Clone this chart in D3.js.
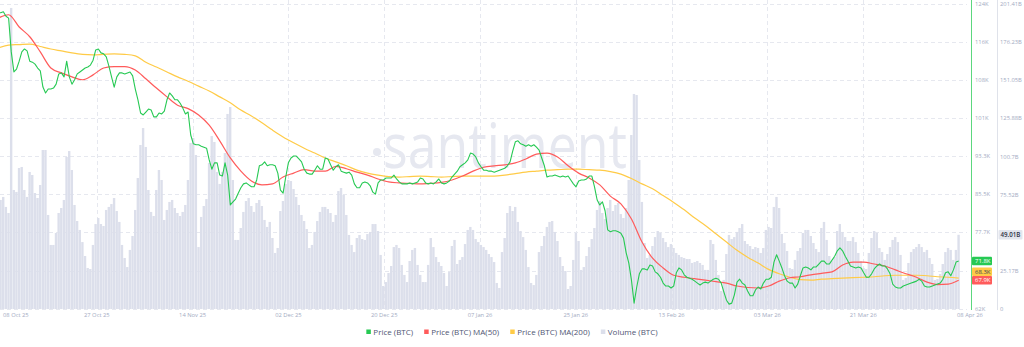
<!DOCTYPE html>
<html>
<head>
<meta charset="utf-8">
<script src="https://cdn.jsdelivr.net/npm/d3@7"></script>
<style>
  html, body { margin: 0; padding: 0; background: #ffffff; }
  svg { display: block; font-family: "Open Sans", "Noto Sans", sans-serif; }
</style>
</head>
<body>
<svg id="chart" width="1024" height="347"></svg>
<script>
// ---- BTC price, every 12 hours (thousand USD) ----
const priceStart = "2025-10-08T10:00:00Z";
const priceStepHours = 12;
const priceK = [
  122.6, 122.6, 122.8, 121.9, 121.5, 114.6, 110.5, 111.1, 112.7, 114.6,
  115.2, 114.8, 112.7, 112.5, 112.1, 111.3, 110.7, 107.4, 106.2, 107.0,
  107.0, 107.2, 108.0, 110.1, 110.3, 109.5, 112.7, 109.5, 108.0, 108.9,
  110.1, 110.5, 110.9, 111.3, 111.5, 111.9, 112.9, 115.0, 115.2, 114.4,
  114.2, 113.6, 111.7, 109.5, 107.4, 109.5, 110.3, 110.3, 110.1, 110.3,
  110.5, 109.7, 107.0, 104.8, 102.1, 101.7, 102.3, 102.9, 102.7, 101.3,
  101.3, 102.1, 101.9, 102.5, 104.8, 106.2, 105.6, 104.8, 104.8, 104.1,
  103.1, 101.9, 102.3, 97.6, 95.8, 95.6, 95.6, 95.3, 95.1, 94.9,
  92.5, 90.6, 91.9, 91.9, 89.4, 89.2, 91.9, 89.4, 83.3, 83.9,
  84.5, 85.7, 86.8, 87.6, 87.8, 87.4, 87.0, 87.0, 88.4, 91.3,
  91.5, 92.1, 91.3, 91.5, 91.5, 91.3, 89.8, 86.3, 85.7, 89.0,
  91.9, 92.9, 93.3, 93.3, 92.7, 92.1, 90.6, 89.8, 89.6, 89.6,
  90.4, 91.3, 90.6, 90.6, 92.9, 92.7, 91.5, 90.4, 91.1, 91.5,
  90.2, 90.0, 89.8, 90.0, 89.4, 87.6, 86.8, 86.8,
  87.8, 88.0, 87.8,
  87.2, 85.9, 85.5, 87.8, 88.4, 88.4, 88.8, 88.8, 88.8, 89.4,
  88.6, 88.0, 87.6, 87.6, 87.6, 87.8, 87.6, 87.8, 88.0, 88.8,
  88.6, 87.8, 87.6, 87.8, 87.6, 88.0, 88.6, 87.8, 87.6, 87.8,
  88.2, 89.0, 89.6, 90.2, 91.1, 91.5, 91.9, 92.5, 93.9, 93.7,
  93.1, 91.9, 91.1, 90.4, 90.4, 90.2, 90.2, 90.0, 90.2, 90.4,
  90.6, 90.8, 91.3, 92.1, 94.3, 96.2, 96.4, 95.8, 95.6, 95.3,
  95.6, 95.3, 95.6, 95.1, 94.5, 92.9, 91.3, 89.0, 89.2, 89.2,
  89.4, 89.2, 89.0, 89.2, 89.0, 89.2, 88.4, 87.6, 87.0, 88.2,
  88.4, 88.4, 88.6, 89.2, 89.2, 87.0, 84.3, 83.3, 83.9, 82.1,
  78.2, 77.8, 78.0, 78.0, 77.8, 77.5, 76.5, 73.5, 71.4, 67.9,
  63.2, 66.5, 69.2, 70.2, 70.2, 70.0, 71.0, 70.8, 69.6, 69.2,
  68.5, 67.3, 66.7, 66.7, 66.3, 66.7, 69.4, 70.4, 70.0, 69.0,
  68.5, 68.3, 68.1, 67.7, 67.3, 66.9, 67.3, 67.5, 67.3, 67.7,
  68.1, 68.3, 68.1, 67.3, 65.5, 63.8, 63.0, 63.2, 64.9, 67.5,
  68.1, 67.3, 66.9, 65.7, 64.7, 64.7, 65.9, 66.5, 66.1, 67.3,
  68.1, 68.1, 68.5, 71.6, 73.1, 71.8, 70.4, 68.8, 67.7, 67.3,
  67.3, 66.3, 67.1, 68.8, 70.4, 70.6, 70.4, 70.0, 70.6, 70.6,
  71.2, 71.8, 71.8, 71.2, 71.2, 72.0, 72.8, 73.9, 74.5, 73.9,
  72.8, 71.8, 70.8, 70.6, 70.4, 70.6, 70.4, 69.4, 68.5, 68.5,
  69.2, 70.2, 70.8, 71.2, 70.8, 70.8, 70.2, 69.2, 67.1, 66.5,
  66.3, 66.3, 66.7, 66.9, 67.1, 67.3, 67.5, 67.7, 68.1, 67.7,
  66.7, 66.5, 66.5, 66.7, 66.9, 67.1, 67.3, 68.1, 69.4, 69.6,
  68.8, 70.0, 71.6, 71.8
];

// ---- Moving averages, every 2 days (thousand USD) ----
const maStart = "2025-10-08T10:00:00Z";
const maStepHours = 48;
const ma50K = [
  121.5, 122.2, 119.7, 117.7, 114.6, 111.3, 110.3, 109.5, 108.9, 109.9,
  111.3, 111.6, 111.6, 110.9, 109.1, 107.2, 105.4, 103.7, 103.0, 101.7,
  99.6, 96.4, 92.9, 90.2, 88.2, 87.4, 87.6, 89.0, 89.8, 90.5,
  90.2, 90.2, 91.2, 90.7, 90.0, 89.4, 88.6, 88.0, 87.8, 87.7,
  87.6, 87.7, 87.9, 88.4, 89.2, 90.2, 91.0, 91.3, 91.5, 91.9,
  92.7, 93.7, 93.9, 93.1, 91.3, 89.8, 88.8, 87.4, 85.1, 83.5,
  80.4, 75.7, 72.4, 70.4, 68.9, 68.5, 68.2, 67.9, 67.6, 67.3,
  66.7, 66.4, 66.3, 66.7, 67.7, 68.4, 68.6, 69.0, 69.3, 69.6,
  71.0, 71.6, 71.6, 71.2, 70.8, 70.0, 69.2, 68.5, 67.5, 67.0,
  67.1, 67.9
];
const ma200K = [
  115.4, 116.0, 116.1, 116.2, 115.7, 115.2, 114.8, 114.4, 114.1, 114.0,
  114.1, 114.2, 114.1, 113.8, 112.5, 111.5, 110.5, 109.5, 108.6, 107.6,
  106.6, 105.4, 104.2, 102.7, 101.5, 100.1, 98.6, 97.2, 96.0, 94.9,
  93.9, 92.9, 92.1, 91.3, 90.4, 89.8, 89.4, 89.1, 89.0, 89.1,
  89.2, 89.1, 89.0, 89.1, 89.2, 89.2, 89.2, 89.2, 89.4, 89.7,
  90.0, 90.2, 90.4, 90.5, 90.6, 90.6, 90.5, 90.4, 90.1, 89.6,
  88.7, 87.6, 86.6, 85.2, 83.8, 82.3, 80.6, 79.1, 77.4, 75.7,
  74.0, 72.6, 71.4, 70.1, 69.2, 68.5, 68.0, 67.9, 68.1, 68.2,
  68.3, 68.4, 68.5, 68.6, 68.8, 68.9, 68.9, 68.9, 68.8, 68.6,
  68.5, 68.3
];

// ---- Trading volume, every 12 hours (billions) ----
const volumeStart = "2025-10-08T10:00:00Z";
const volumeStepHours = 12;
const volumeB = [
  63.4, 72.0, 74.0, 67.4, 63.4, 198.8, 78.6, 77.3, 93.1, 93.8,
  78.6, 74.0, 90.5, 88.5, 76.6, 73.3, 81.9, 105.0, 105.0, 62.1,
  42.3, 42.3, 50.2, 63.4, 66.7, 72.0, 100.4, 104.3, 91.8, 68.7,
  58.1, 52.2, 44.2, 35.0, 27.1, 26.4, 42.3, 56.1, 60.1, 56.1,
  54.8, 65.4, 67.4, 69.3, 73.3, 64.7, 57.5, 42.3, 33.7, 27.7,
  39.0, 48.2, 65.4, 86.5, 108.3, 119.5, 107.0, 78.6, 64.1, 61.4,
  78.6, 91.8, 85.2, 58.8, 65.4, 70.7, 72.0, 66.7, 63.4, 61.4,
  64.1, 68.7, 85.2, 109.6, 112.9, 101.7, 40.9, 60.8, 68.0, 72.6,
  96.4, 114.2, 110.3, 90.5, 82.6, 90.5, 103.0, 128.8, 133.4, 85.2,
  45.6, 45.6, 53.5, 64.1, 71.3, 73.3, 68.0, 64.1, 70.0, 72.0,
  68.0, 58.8, 54.2, 57.5, 46.9, 37.0, 40.3, 64.7, 71.3, 82.6,
  85.2, 84.5, 79.2, 74.0, 68.7, 62.1, 58.1, 52.8, 40.3, 42.3,
  50.9, 58.1, 64.1, 67.4, 67.4, 66.0, 63.4, 57.5, 62.1, 77.9,
  79.9, 75.3, 62.1, 48.9, 42.3, 37.6, 46.9, 48.9, 46.2, 45.6,
  49.5, 50.9, 56.1, 56.1, 51.5, 35.7, 15.2, 17.8, 23.8, 28.4,
  40.9, 42.3, 40.3, 29.1, 22.5, 17.8, 31.7, 39.0, 40.3, 29.1,
  22.5, 17.8, 17.8, 29.1, 46.9, 40.9, 34.3, 31.0, 28.4, 23.8,
  15.2, 24.4, 41.6, 45.6, 29.7, 32.4, 34.3, 42.9, 52.2, 54.2,
  52.2, 46.2, 44.2, 42.3, 40.9, 39.0, 36.3, 34.3, 31.0, 17.2,
  13.9, 37.6, 46.9, 63.4, 68.0, 64.7, 67.4, 57.5, 51.5, 47.5,
  39.0, 27.7, 17.2, 15.8, 22.5, 37.6, 41.6, 48.2, 54.2, 57.5,
  58.1, 50.9, 44.9, 34.3, 28.4, 25.1, 13.2, 15.2, 32.4, 50.2,
  44.9, 25.8, 27.7, 35.0, 40.9, 46.2, 53.5, 65.4, 71.3, 63.4,
  59.4, 66.7, 72.0, 64.7, 68.7, 70.0, 62.7, 60.1, 66.7, 85.2,
  114.9, 142.0, 141.3, 98.4, 70.7, 43.6, 33.7, 35.7, 41.6, 47.5,
  51.5, 50.2, 46.9, 44.2, 40.9, 42.9, 40.3, 37.0, 35.7, 34.3,
  33.7, 33.0, 33.0, 30.4, 31.0, 31.7, 30.4, 29.1, 25.8, 25.8,
  45.6, 42.9, 32.4, 22.5, 11.9, 19.2, 36.3, 48.9, 46.2, 47.5,
  50.9, 53.5, 56.1, 44.9, 42.9, 41.6, 39.6, 40.9, 40.3, 37.0,
  40.3, 52.2, 54.2, 53.5, 67.4, 74.0, 66.7, 49.5, 43.6, 38.3,
  27.1, 26.4, 32.4, 38.3, 40.3, 50.2, 52.2, 52.2, 48.2, 43.6,
  39.6, 37.6, 53.5, 57.5, 45.6, 35.0, 31.7, 34.3, 51.5, 56.1,
  50.9, 47.5, 44.9, 44.9, 47.5, 44.2, 37.0, 31.7, 27.1, 26.4,
  37.0, 46.9, 51.5, 50.2, 40.3, 37.6, 32.4, 36.3, 40.9, 45.6,
  47.5, 44.2, 35.7, 19.2, 20.5, 30.4, 37.6, 39.6, 40.9, 42.9,
  40.9, 37.6, 39.0, 33.7, 29.7, 19.2, 19.8, 23.1, 29.7, 37.6,
  40.3, 39.0, 32.4, 39.0, 49.01
];

// ---- Axes ----
const axisStart = "2025-10-08T23:20:00Z";
const axisEnd = "2026-04-08T11:20:00Z";
const timeTickCount = 10;
const priceTicks = [62000, 69800, 77700, 85500, 93300, 101000, 108800, 116600, 124400];
const priceTickLabels = ["62K", "69.8K", "77.7K", "85.5K", "93.3K", "101K", "108K", "116K", "124K"];
const volumeTicks = [0, 25.17e9, 50.35e9, 75.52e9, 100.7e9, 125.88e9, 151.05e9, 176.23e9, 201.41e9];
const volumeTickLabels = ["0", "25.17B", "50.35B", "75.52B", "100.7B", "125.88B", "151.05B", "176.23B", "201.41B"];
const legendLabels = ["Price (BTC)", "Price (BTC) MA(50)", "Price (BTC) MA(200)", "Volume (BTC)"];

// ---- Styling ----
const C = {
  price: "#26c953",
  ma50: "#ff5b5b",
  ma200: "#ffcb47",
  volume: "#dcdfeb",
  grid: "#e6e8ef",
  tick: "#a3abc2",
  legend: "#505573",
  watermark: "#e6e8f0"
};
const tickFont = 5.8;

const svg = d3.select("#chart");
const plotBottom = 309, plotTop = 4;

const HOUR = 3600e3;
function toSeries(start, stepHours, values, mult) {
  const t0 = new Date(start).getTime();
  return values.map((v, i) => ({ t: new Date(t0 + i * stepHours * HOUR), v: v * mult }));
}
const priceData = toSeries(priceStart, priceStepHours, priceK, 1000);
const ma50Data = toSeries(maStart, maStepHours, ma50K, 1000);
const ma200Data = toSeries(maStart, maStepHours, ma200K, 1000);
const volumeData = toSeries(volumeStart, volumeStepHours, volumeB, 1e9);

const tA = new Date(axisStart), tB = new Date(axisEnd);
const x = d3.scaleUtc().domain([tA, tB]).range([1, 959]);
const yP = d3.scaleLinear().domain([62000, 124400]).range([plotBottom, plotTop]);
const yV = d3.scaleLinear().domain([0, 201.41e9]).range([plotBottom, plotTop]);

const timeTicks = d3.range(timeTickCount + 1).map(i => new Date(+tA + i * (tB - tA) / timeTickCount));
const fmtDate = d3.utcFormat("%d %b %y");

// grid
const grid = svg.append("g");
grid.selectAll("line.h").data(priceTicks).join("line")
  .attr("x1", 0).attr("x2", 967)
  .attr("y1", d => Math.round(yP(d)) + 0.5).attr("y2", d => Math.round(yP(d)) + 0.5)
  .attr("stroke", C.grid).attr("stroke-dasharray", "4 3");
grid.selectAll("line.v").data(timeTicks.slice(1, -1)).join("line")
  .attr("x1", d => Math.round(x(d)) + 0.5).attr("x2", d => Math.round(x(d)) + 0.5)
  .attr("y1", 0).attr("y2", plotBottom)
  .attr("stroke", C.grid).attr("stroke-dasharray", "4 3");

// watermark
const wm = svg.append("g").attr("fill", C.watermark);
wm.append("circle").attr("cx", 377).attr("cy", 152).attr("r", 4);
wm.append("text").attr("x", 383).attr("y", 168)
  .attr("font-size", 62).attr("font-family", "Open Sans, sans-serif")
  .attr("textLength", 244).attr("lengthAdjust", "spacingAndGlyphs")
  .text("santiment");

// volume bars
const stepPx = x(new Date(+tA + volumeStepHours * HOUR)) - x(tA);
svg.append("g").selectAll("rect").data(volumeData).join("rect")
  .attr("x", d => x(d.t) - stepPx / 2)
  .attr("width", stepPx - 0.25)
  .attr("y", d => yV(d.v))
  .attr("height", d => plotBottom - yV(d.v))
  .attr("fill", C.volume);

// lines
const maLine = d3.line().x(d => x(d.t)).y(d => yP(d.v)).curve(d3.curveMonotoneX);
const priceLine = d3.line().x(d => x(d.t)).y(d => yP(d.v));
svg.append("path").datum(ma200Data).attr("d", maLine)
  .attr("fill", "none").attr("stroke", C.ma200).attr("stroke-width", 1.2);
svg.append("path").datum(ma50Data).attr("d", maLine)
  .attr("fill", "none").attr("stroke", C.ma50).attr("stroke-width", 1.2);
svg.append("path").datum(priceData).attr("d", priceLine)
  .attr("fill", "none").attr("stroke", C.price).attr("stroke-width", 1.1)
  .attr("stroke-linejoin", "round");

// x axis labels
svg.append("g").selectAll("text").data(timeTicks).join("text")
  .attr("x", (d, i) => i === 0 ? 3 : (i === timeTicks.length - 1 ? x(d) - 2 : x(d)))
  .attr("y", 317)
  .attr("text-anchor", (d, i) => (i === 0 || i === timeTicks.length - 1) ? "start" : "middle")
  .attr("font-size", tickFont).attr("fill", C.tick)
  .text(d => fmtDate(d));

// last values and their badge positions
const lastP = priceData[priceData.length - 1].v;
const last50 = ma50Data[ma50Data.length - 1].v;
const last200 = ma200Data[ma200Data.length - 1].v;
const lastV = volumeData[volumeData.length - 1].v;
const fmtK = v => (v / 1000).toFixed(1) + "K";
const badgeH = 8.5;
const badges = [
  { v: lastP, text: fmtK(lastP), bg: C.price, fg: "#ffffff" },
  { v: last200, text: fmtK(last200), bg: C.ma200, fg: "#3b3f52" },
  { v: last50, text: fmtK(last50), bg: C.ma50, fg: "#ffffff" }
].map(b => ({ ...b, y: yP(b.v) }));
// stack upward from the lowest badge so they never overlap
badges.sort((a, b) => b.y - a.y);
for (let i = 1; i < badges.length; i++) {
  badges[i].y = Math.min(badges[i].y, badges[i - 1].y - badgeH);
}
const volBadgeY = yV(lastV);
// tick labels that sit under a badge are not drawn
const freeOf = (ys, y) => ys.every(by => Math.abs(by - y) > badgeH * 0.8);

// price axis
svg.append("line").attr("x1", 971.5).attr("x2", 971.5).attr("y1", 0).attr("y2", plotBottom + 1)
  .attr("stroke", C.price).attr("stroke-opacity", 0.75);
svg.append("g").selectAll("text")
  .data(priceTicks.map((v, i) => ({ v, label: priceTickLabels[i] }))
    .filter(d => freeOf(badges.map(b => b.y), yP(d.v))))
  .join("text")
  .attr("x", 975).attr("y", d => yP(d.v)).attr("dy", "0.35em")
  .attr("font-size", tickFont).attr("fill", C.tick)
  .text(d => d.label);

// volume axis
svg.append("line").attr("x1", 997.5).attr("x2", 997.5).attr("y1", 0).attr("y2", plotBottom + 1)
  .attr("stroke", "#dfe2ea");
svg.append("g").selectAll("text")
  .data(volumeTicks.map((v, i) => ({ v, label: volumeTickLabels[i] }))
    .filter(d => freeOf([volBadgeY], yV(d.v))))
  .join("text")
  .attr("x", 1000).attr("y", d => yV(d.v)).attr("dy", "0.35em")
  .attr("font-size", tickFont).attr("fill", C.tick)
  .text(d => d.label);

// badges
const bg = svg.append("g").selectAll("g").data(badges).join("g")
  .attr("transform", d => `translate(972,${d.y - badgeH / 2})`);
bg.append("rect").attr("width", 20).attr("height", badgeH).attr("rx", 1).attr("fill", d => d.bg);
bg.append("text").attr("x", 3).attr("y", badgeH / 2).attr("dy", "0.35em")
  .attr("font-size", 6).attr("fill", d => d.fg).text(d => d.text);

const vb = svg.append("g").attr("transform", `translate(998.5,${volBadgeY - badgeH / 2 - 0.5})`);
vb.append("rect").attr("width", 24).attr("height", badgeH + 1).attr("rx", 1).attr("fill", "#e3e6ee");
vb.append("text").attr("x", 2).attr("y", (badgeH + 1) / 2).attr("dy", "0.35em")
  .attr("font-size", 6.2).attr("font-weight", 600).attr("fill", "#2f3347")
  .text((lastV / 1e9).toFixed(2) + "B");

// legend
const legendColors = [C.price, C.ma50, C.ma200, C.volume];
const legend = svg.append("g").attr("font-size", 8).attr("fill", C.legend);
let lx = 0;
legendLabels.forEach((label, i) => {
  const g = legend.append("g").attr("transform", `translate(${lx},0)`);
  g.append("rect").attr("x", 0).attr("y", -5.5).attr("width", 4.5).attr("height", 4.5).attr("fill", legendColors[i]);
  const t = g.append("text").attr("x", 7).attr("y", 0).text(label);
  lx += 7 + t.node().getComputedTextLength() + 11;
});
const legendW = lx - 11;
legend.attr("transform", `translate(${512 - legendW / 2},335)`);
</script>
</body>
</html>
